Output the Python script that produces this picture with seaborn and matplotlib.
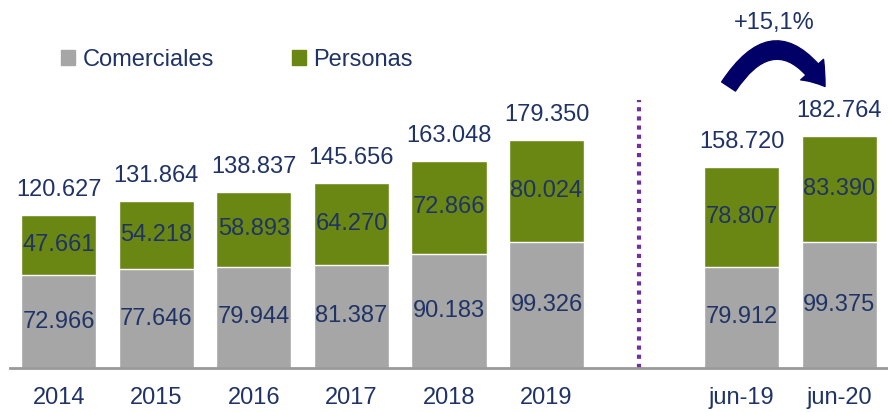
import pandas as pd
import matplotlib.pyplot as plt
import seaborn as sns
from matplotlib.patches import Patch, FancyArrowPatch

# Datos (millones de $)
periodos = ['2014', '2015', '2016', '2017', '2018', '2019', 'jun-19', 'jun-20']
comerciales = [72966, 77646, 79944, 81387, 90183, 99326, 79912, 99375]
personas = [47661, 54218, 58893, 64270, 72866, 80024, 78807, 83390]
totales = [120627, 131864, 138837, 145656, 163048, 179350, 158720, 182764]
variacion = '+15,1%'

# Orden con hueco entre el anual y el semestral
orden = periodos[:6] + [' '] + periodos[6:]

GRIS = '#A6A6A6'
VERDE = '#6B8713'
AZUL = '#1F3366'
FLECHA = '#000066'
MORADO = '#7030A0'

sns.set_theme(style='white')
plt.rcParams['font.family'] = ['Liberation Sans', 'DejaVu Sans']

df = pd.DataFrame({'periodo': periodos, 'comerciales': comerciales,
                   'personas': personas, 'total': totales})

fig = plt.figure(figsize=(8.88, 4.12), dpi=100)
ax = fig.add_axes([10 / 888, 44 / 412, 878 / 888, 368 / 412])

# barras apiladas: total en verde, comerciales en gris encima
sns.barplot(data=df, x='periodo', y='total', order=orden, color=VERDE,
            saturation=1, width=0.77, ax=ax, errorbar=None)
sns.barplot(data=df, x='periodo', y='comerciales', order=orden, color=GRIS,
            saturation=1, width=0.77, ax=ax, errorbar=None)

fmt = lambda v: f'{v:,}'.replace(',', '.')
for p, c, s, t in zip(periodos, comerciales, personas, totales):
    x = orden.index(p)
    ax.text(x, c / 2, fmt(c), ha='center', va='center', fontsize=17, color=AZUL)
    ax.text(x, c + (t - c) / 2, fmt(s), ha='center', va='center', fontsize=17, color=AZUL)
    ax.annotate(fmt(t), (x, t), xytext=(0, 18), textcoords='offset points',
                ha='center', va='center', fontsize=17, color=AZUL)

ax.set_xlim(-0.5, 8.5)
ax.set_ylim(0, 290000)
ax.set_xlabel('')
ax.set_ylabel('')
ax.set_yticks([])
ax.tick_params(axis='x', length=0, pad=14, labelsize=17, labelcolor=AZUL)
for lado in ['top', 'right', 'left']:
    ax.spines[lado].set_visible(False)
ax.spines['bottom'].set_color('#999999')
ax.spines['bottom'].set_linewidth(2)

# separador punteado
ax.plot([5.95, 5.95], [0, 211000], color=MORADO, linestyle=(0, (1, 1.2)),
        linewidth=3, solid_capstyle='butt')

# flecha de variación
i19, i20 = orden.index('jun-19'), orden.index('jun-20')
flecha = FancyArrowPatch((i19 - 0.15, 220000), (i20 - 0.13, 220000),
                         connectionstyle='arc3,rad=-0.78',
                         arrowstyle='simple,head_width=1.3,head_length=0.9,tail_width=0.7',
                         mutation_scale=17, color=FLECHA, clip_on=False)
ax.add_patch(flecha)
ax.text(i19 + 0.33, 272000, variacion, ha='center', va='center',
        fontsize=17, color=AZUL)

# leyenda
handles = [Patch(color=GRIS, label='Comerciales'), Patch(color=VERDE, label='Personas')]
fig.legend(handles=handles, loc='center left', bbox_to_anchor=(61 / 888, 1 - 60 / 412),
           ncol=2, frameon=False, fontsize=17, labelcolor=AZUL,
           handlelength=0.6, handleheight=0.6, handletextpad=0.3,
           columnspacing=3.3, borderpad=0, borderaxespad=0)

fig.savefig('out.png', dpi=100)
